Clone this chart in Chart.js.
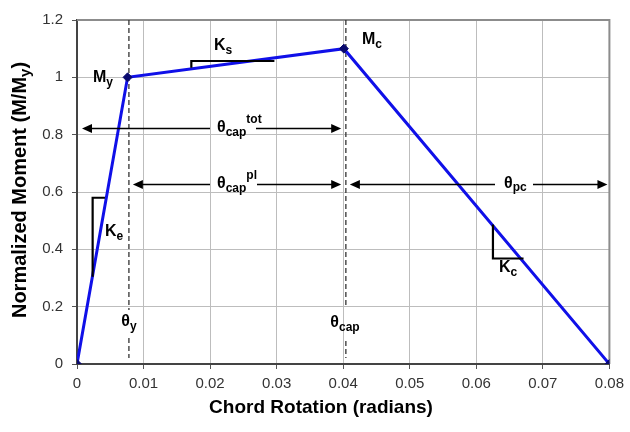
<!DOCTYPE html>
<html><head><meta charset="utf-8">
<script src="https://cdn.jsdelivr.net/npm/chart.js@4/dist/chart.umd.min.js"></script>
<style>html,body{margin:0;padding:0;background:#fff}#wrap{width:630px;height:432px}</style>
</head><body><div id="wrap"><canvas id="c" width="630" height="432"></canvas></div>
<script>
// Backbone curve
const rotation = [0, 0.0076, 0.0401, 0.08];
const moment = [0, 1.0, 1.1, 0];
const xTickLabels = ['0','0.01','0.02','0.03','0.04','0.05','0.06','0.07','0.08'];
const yTickLabels = ['0','0.2','0.4','0.6','0.8','1','1.2'];
// Annotation positions (data units)
const thetaY = 0.0078;
const thetaCap = 0.0404;
const arrowTot = [0.00075, 0.0397, 0.825];
const arrowPl = [0.0084, 0.0397, 0.628];
const arrowPc = [0.0410, 0.0797, 0.628];
const keTri = [0.00235, 0.0042, 0.304, 0.58];
const ksTri = [0.01718, 0.02966, 1.033, 1.057];
const kcTri = [0.0625, 0.0671, 0.487, 0.368];

const FONT = '"Liberation Sans", Arial, sans-serif';

function rich(ctx, parts, x, y, align) {
  let w = 0;
  parts.forEach(p => { ctx.font = 'bold ' + p[1] + 'px ' + FONT; p.w = ctx.measureText(p[0]).width; w += p.w; });
  let cx = align === 'center' ? x - w / 2 : (align === 'right' ? x - w : x);
  ctx.textAlign = 'left'; ctx.textBaseline = 'middle';
  parts.forEach(p => { ctx.font = 'bold ' + p[1] + 'px ' + FONT; ctx.fillText(p[0], cx, y + p[2]); cx += p.w; });
  return w;
}

const annot = {
  id: 'annot',
  beforeDatasetsDraw(chart) {
    const {ctx, chartArea: a, scales: {x, y}} = chart;
    ctx.save();
    ctx.strokeStyle = '#8c8c8c'; ctx.lineWidth = 2;
    ctx.beginPath(); ctx.moveTo(a.left, a.top); ctx.lineTo(a.right, a.top); ctx.lineTo(a.right, a.bottom); ctx.stroke();
    ctx.strokeStyle = '#333'; ctx.lineWidth = 1.3; ctx.setLineDash([5, 3]);
    const px1 = x.getPixelForValue(thetaY);
    ctx.beginPath(); ctx.moveTo(px1, a.top); ctx.lineTo(px1, 310); ctx.moveTo(px1, 338); ctx.lineTo(px1, 358); ctx.stroke();
    const px2 = x.getPixelForValue(thetaCap);
    ctx.beginPath(); ctx.moveTo(px2, a.top); ctx.lineTo(px2, 308); ctx.moveTo(px2, 341); ctx.lineTo(px2, 358); ctx.stroke();
    ctx.setLineDash([]);
    ctx.restore();
  },
  afterDatasetsDraw(chart) {
    const {ctx, chartArea: a, scales: {x, y}} = chart;
    ctx.save();
    ctx.fillStyle = '#000'; ctx.strokeStyle = '#000';
    function arrow(ar, gapL, gapR) {
      const x1 = x.getPixelForValue(ar[0]), x2 = x.getPixelForValue(ar[1]), py = Math.round(y.getPixelForValue(ar[2])) + 0.5;
      ctx.lineWidth = 1.3;
      ctx.beginPath(); ctx.moveTo(x1 + 4, py); ctx.lineTo(gapL, py); ctx.moveTo(gapR, py); ctx.lineTo(x2 - 4, py); ctx.stroke();
      ctx.beginPath(); ctx.moveTo(x1, py); ctx.lineTo(x1 + 10, py - 4.5); ctx.lineTo(x1 + 10, py + 4.5); ctx.closePath(); ctx.fill();
      ctx.beginPath(); ctx.moveTo(x2, py); ctx.lineTo(x2 - 10, py - 4.5); ctx.lineTo(x2 - 10, py + 4.5); ctx.closePath(); ctx.fill();
      return py;
    }
    const yt = arrow(arrowTot, 210, 256);
    const yp = arrow(arrowPl, 210, 257);
    const yc = arrow(arrowPc, 495, 533);
    ctx.lineWidth = 2.2;
    let X = v => x.getPixelForValue(v), Y = v => y.getPixelForValue(v);
    ctx.beginPath(); ctx.moveTo(X(keTri[0]), Y(keTri[2])); ctx.lineTo(X(keTri[0]), Y(keTri[3])); ctx.lineTo(X(keTri[1]), Y(keTri[3])); ctx.stroke();
    ctx.beginPath(); ctx.moveTo(X(ksTri[0]), Y(ksTri[2])); ctx.lineTo(X(ksTri[0]), Y(ksTri[3])); ctx.lineTo(X(ksTri[1]), Y(ksTri[3])); ctx.stroke();
    ctx.beginPath(); ctx.moveTo(X(kcTri[0]), Y(kcTri[2])); ctx.lineTo(X(kcTri[0]), Y(kcTri[3])); ctx.lineTo(X(kcTri[1]), Y(kcTri[3])); ctx.stroke();
    ctx.fillStyle = '#000';
    rich(ctx, [['θ', 16, 0], ['cap', 12, 5], ['tot', 12, -8]], 217, yt - 1, 'left');
    rich(ctx, [['θ', 16, 0], ['cap', 12, 5], ['pl', 12, -8]], 217, yp - 1, 'left');
    rich(ctx, [['θ', 16, 0], ['pc', 12, 4]], 504, yc - 1, 'left');
    rich(ctx, [['M', 16, 0], ['y', 12, 5]], 103, 78, 'center');
    rich(ctx, [['M', 16, 0], ['c', 12, 5]], 372, 40, 'center');
    rich(ctx, [['K', 16, 0], ['e', 12, 5]], 114, 232, 'center');
    rich(ctx, [['K', 16, 0], ['s', 12, 5]], 223, 46, 'center');
    rich(ctx, [['K', 16, 0], ['c', 12, 5]], 508, 268, 'center');
    rich(ctx, [['θ', 16, 0], ['y', 12, 5]], 129, 322, 'center');
    rich(ctx, [['θ', 16, 0], ['cap', 12, 5]], 345, 323, 'center');
    // x axis title
    ctx.fillStyle = '#000';
    ctx.font = 'bold 19px ' + FONT; ctx.textAlign = 'center'; ctx.textBaseline = 'middle';
    ctx.fillText('Chord Rotation (radians)', 321, 408);
    // y axis title
    ctx.translate(20, 190);
    ctx.rotate(-Math.PI / 2);
    ctx.font = 'bold 20px ' + FONT;
    const w1 = ctx.measureText('Normalized Moment (M/M').width;
    ctx.font = 'bold 15px ' + FONT;
    const w2 = ctx.measureText('y').width;
    ctx.font = 'bold 20px ' + FONT;
    const w3 = ctx.measureText(')').width;
    let sx = -(w1 + w2 + w3) / 2;
    ctx.textBaseline = 'middle'; ctx.textAlign = 'left';
    ctx.fillText('Normalized Moment (M/M', sx, 0);
    ctx.font = 'bold 15px ' + FONT; ctx.fillText('y', sx + w1, 6);
    ctx.font = 'bold 20px ' + FONT; ctx.fillText(')', sx + w1 + w2, 0);
    ctx.restore();
  }
};

new Chart(document.getElementById('c'), {
  type: 'scatter',
  data: { datasets: [{
    data: rotation.map((v, i) => ({x: v, y: moment[i]})),
    showLine: true, borderColor: '#1010e8', borderWidth: 3,
    pointStyle: 'rectRot', pointRadius: 4.5, pointBackgroundColor: '#0a0a6e', pointBorderColor: '#0a0a6e', pointBorderWidth: 1
  }]},
  options: {
    responsive: false, animation: false, events: [],
    layout: { padding: { left: 0, right: 19, top: 20, bottom: 0 } },
    plugins: { legend: {display: false}, tooltip: {enabled: false} },
    scales: {
      x: {
        type: 'linear', min: 0, max: 0.08,
        afterFit: s => { s.height = 68; },
        afterBuildTicks: s => { s.ticks = xTickLabels.map(t => ({value: parseFloat(t)})); },
        ticks: { callback: (v, i) => xTickLabels[i], color: '#333', font: {family: FONT, size: 15}, padding: 6, maxRotation: 0, autoSkip: false },
        grid: { color: '#bdbdbd', lineWidth: 1, tickLength: 5, tickColor: '#555' },
        border: { color: '#444', width: 2 }
      },
      y: {
        type: 'linear', min: 0, max: 1.2,
        afterFit: s => { s.width = 77; },
        afterBuildTicks: s => { s.ticks = yTickLabels.map(t => ({value: parseFloat(t)})); },
        ticks: { callback: (v, i) => yTickLabels[i], color: '#333', font: {family: FONT, size: 15}, padding: 9 },
        grid: { color: '#bdbdbd', lineWidth: 1, tickLength: 5, tickColor: '#555' },
        border: { color: '#444', width: 2 }
      }
    }
  },
  plugins: [annot]
});
</script>
</body></html>
